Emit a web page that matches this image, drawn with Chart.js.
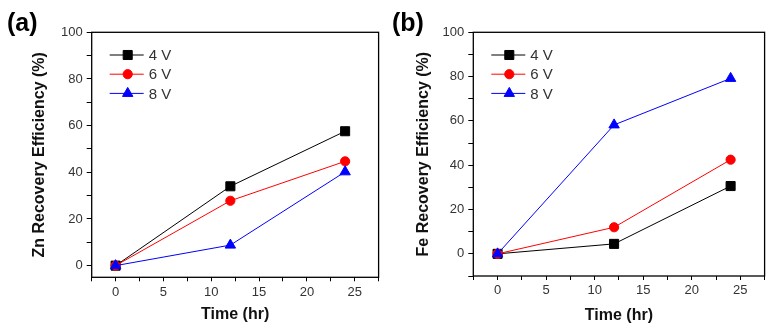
<!DOCTYPE html>
<html>
<head>
<meta charset="utf-8">
<title>Zn / Fe recovery efficiency</title>
<script src="https://cdn.jsdelivr.net/npm/chart.js@4.4.1/dist/chart.umd.min.js"></script>
<style>
  body { margin: 0; background: #fff; }
  .panel { position: absolute; top: 0; width: 386px; height: 334px; }
</style>
</head>
<body>
<div class="panel" style="left:0"><canvas id="znChart" width="386" height="334"></canvas></div>
<div class="panel" style="left:386px"><canvas id="feChart" width="386" height="334"></canvas></div>
<script>
// time points (hr) and recovery efficiency (%) per applied voltage
const hours = [0, 12, 24];
const voltageLabels = ["4 V", "6 V", "8 V"];

const zn4V = [0, 34.0, 57.6];
const zn6V = [0, 27.8, 44.7];
const zn8V = [0, 8.8, 40.2];

const fe4V = [0, 4.5, 30.6];
const fe6V = [0, 12.0, 42.5];
const fe8V = [0, 58.2, 79.2];

const xTickLabels = [0, 5, 10, 15, 20, 25];
const yTickLabels = [0, 20, 40, 60, 80, 100];

const FONT = '"Liberation Sans", Arial, sans-serif';

const colors = ["#000000", "#ff0000", "#0000ff"];
const markers = [
  { style: "rect", radius: 6.4 },
  { style: "circle", radius: 4.6 },
  { style: "triangle", radius: 6 }
];

// box round the plot area, the key in its top left corner and the panel tag
const framePlugin = {
  id: "frame",
  afterDraw(chart, args, opts) {
    const ctx = chart.ctx;
    const a = chart.chartArea;
    ctx.save();
    ctx.strokeStyle = "#000";
    ctx.lineWidth = 1.3;
    ctx.strokeRect(a.left, a.top, a.right - a.left, a.bottom - a.top);

    ctx.font = "15px " + FONT;
    ctx.textBaseline = "middle";
    chart.data.datasets.forEach((ds, i) => {
      const y = a.top + 22.7 + i * 19.2;
      ctx.strokeStyle = ds.borderColor;
      ctx.fillStyle = ds.borderColor;
      ctx.lineWidth = 1;
      ctx.beginPath();
      ctx.moveTo(a.left + 18, y);
      ctx.lineTo(a.left + 52, y);
      ctx.stroke();
      Chart.helpers.drawPoint(ctx, { pointStyle: ds.pointStyle, radius: ds.pointRadius, borderWidth: 1, rotation: 0 }, a.left + 36, y);
      ctx.fillStyle = "#333";
      ctx.fillText(ds.label, a.left + 57, y + 1);
    });

    ctx.fillStyle = "#000";
    ctx.textBaseline = "alphabetic";
    ctx.font = "bold 25px " + FONT;
    ctx.fillText(opts.tag, opts.tagX, 31);
    ctx.restore();
  }
};

function makeDatasets(series) {
  return series.map((values, i) => ({
    label: voltageLabels[i],
    data: hours.map((h, j) => ({ x: h, y: values[j] })),
    borderColor: colors[i],
    backgroundColor: colors[i],
    borderWidth: 1,
    pointStyle: markers[i].style,
    pointRadius: markers[i].radius,
    pointHoverRadius: markers[i].radius,
    pointBackgroundColor: colors[i],
    pointBorderColor: colors[i],
    pointBorderWidth: 1,
    order: 3 - i
  }));
}

function makePanel(canvasId, yTitle, yMin, series, tag, tagX, box) {
  // major ticks carry a label, minor ticks sit halfway between them
  const xTicks = [];
  xTickLabels.forEach(v => xTicks.push(v - 2.5, v));
  xTicks.push(27.5);
  const yTicks = [];
  yTickLabels.forEach(v => { if (v - 10 >= yMin) yTicks.push(v - 10); yTicks.push(v); });

  return new Chart(document.getElementById(canvasId), {
    type: "line",
    data: { datasets: makeDatasets(series) },
    options: {
      responsive: false,
      animation: false,
      events: [],
      layout: { padding: box.padding },
      plugins: {
        legend: { display: false },
        tooltip: { enabled: false },
        frame: { tag: tag, tagX: tagX }
      },
      scales: {
        x: {
          type: "linear",
          min: -2.5,
          max: 27.5,
          afterBuildTicks: scale => { scale.ticks = xTicks.map(v => ({ value: v })); },
          afterFit: scale => { scale.height = box.xHeight; },
          grid: { drawOnChartArea: false, tickLength: 4, tickColor: "#000", tickWidth: 1 },
          border: { display: false },
          ticks: {
            autoSkip: false,
            maxRotation: 0,
            padding: 3,
            color: "#333",
            font: { family: FONT, size: 13 },
            callback: v => xTickLabels.includes(v) ? String(v) : ""
          },
          title: {
            display: true,
            text: "Time (hr)",
            color: "#111",
            padding: 0,
            font: { family: FONT, size: 16, weight: "bold" }
          }
        },
        y: {
          min: yMin,
          max: 100,
          afterBuildTicks: scale => { scale.ticks = yTicks.map(v => ({ value: v })); },
          afterFit: scale => { scale.width = box.yWidth; },
          grid: { drawOnChartArea: false, tickLength: 5, tickColor: "#000", tickWidth: 1 },
          border: { display: false },
          ticks: {
            autoSkip: false,
            padding: 4,
            color: "#333",
            font: { family: FONT, size: 13 },
            callback: v => yTickLabels.includes(v) ? String(v) : ""
          },
          title: {
            display: true,
            text: yTitle,
            color: "#111",
            padding: 0,
            font: { family: FONT, size: 16, weight: "bold" }
          }
        }
      }
    },
    plugins: [framePlugin]
  });
}

makePanel("znChart", "Zn Recovery Efficiency (%)", -5, [zn4V, zn6V, zn8V], "(a)", 7, {
  padding: { left: 30, right: 3.3, top: 32.3, bottom: 9.4 },
  yWidth: 61.7,
  xHeight: 47.3
});

makePanel("feChart", "Fe Recovery Efficiency (%)", -10, [fe4V, fe6V, fe8V], "(b)", 6, {
  padding: { left: 28, right: 7, top: 32.3, bottom: 9 },
  yWidth: 59.3,
  xHeight: 49
});
</script>
</body>
</html>
